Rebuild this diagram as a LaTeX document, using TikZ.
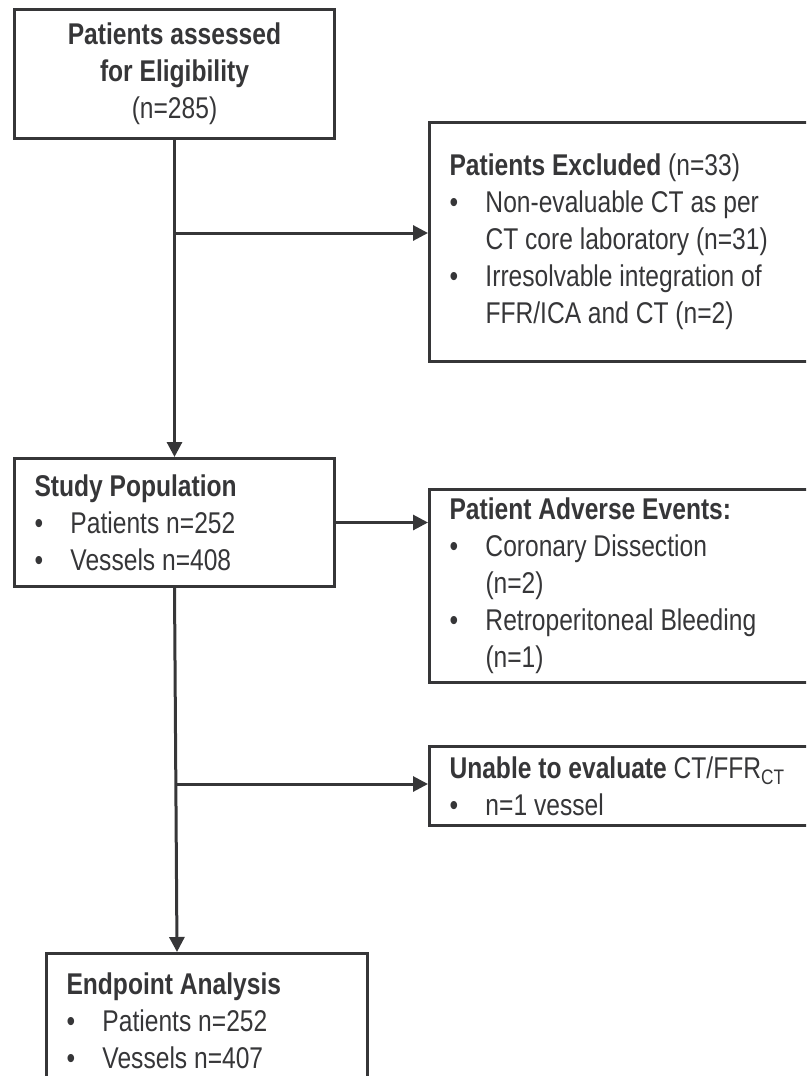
\documentclass[tikz,border=0pt]{standalone}
\usepackage{fontspec}
\setmainfont{Liberation Sans}[FakeStretch=0.82]
\usetikzlibrary{arrows.meta,positioning}
\definecolor{ink}{HTML}{363638}
\newcommand{\bul}{\makebox[36pt][l]{\textbullet}}
\newcommand{\bulgap}{\hspace*{36pt}}
\begin{document}
\begin{tikzpicture}[
    x=1pt, y=-1pt,
    box/.style={draw=ink, line width=3pt, anchor=north west, inner xsep=20pt, inner ysep=0pt,
        align=flush left, text=ink, font=\fontsize{30pt}{37pt}\selectfont},
    link/.style={draw=ink, line width=3pt, -{Triangle[length=15pt, width=15pt]}}
]
\useasboundingbox (0,0) rectangle (806,1076);
\clip (0,0) rectangle (806,1076);
\node[box, align=center, minimum width=320pt, minimum height=129pt] (assessed) at (13,8)
    {\textbf{Patients assessed}\\\textbf{for Eligibility}\\(n=285)};
\node[box, text width=362pt, minimum height=239pt] (excluded) at (428,121)
    {\textbf{Patients Excluded} (n=33)\\
     \bul Non-evaluable CT as per\\
     \bulgap CT core laboratory (n=31)\\
     \bul Irresolvable integration of\\
     \bulgap FFR/ICA and CT (n=2)};
\node[box, text width=280pt, minimum height=128pt] (study) at (13,457)
    {\textbf{Study Population}\\
     \bul Patients n=252\\
     \bul Vessels n=408};
\node[box, text width=362pt, minimum height=193pt] (adverse) at (428,488)
    {\textbf{Patient Adverse Events:}\\
     \bul Coronary Dissection\\
     \bulgap (n=2)\\
     \bul Retroperitoneal Bleeding\\
     \bulgap (n=1)};
\node[box, text width=362pt, minimum height=79pt] (unable) at (428,745)
    {\textbf{Unable to evaluate} CT/FFR\textsubscript{CT}\\
     \bul n=1 vessel};
\node[box, text width=281pt, minimum height=134pt] (endpoint) at (45,952)
    {\textbf{Endpoint Analysis}\\
     \bul Patients n=252\\
     \bul Vessels n=407};

% connectors
\coordinate (split1) at (173,233);
\coordinate (split2) at (175,784);
\coordinate (epin) at (177,952);
\draw[link] (assessed.south) -- (study.north);
\draw[link] (split1) -- (split1 -| excluded.west);
\draw[link] (study.east) -- (study.east -| adverse.west);
\draw[link] (study.south) -- (epin);
\draw[link] (split2) -- (split2 -| unable.west);
\end{tikzpicture}
\end{document}
